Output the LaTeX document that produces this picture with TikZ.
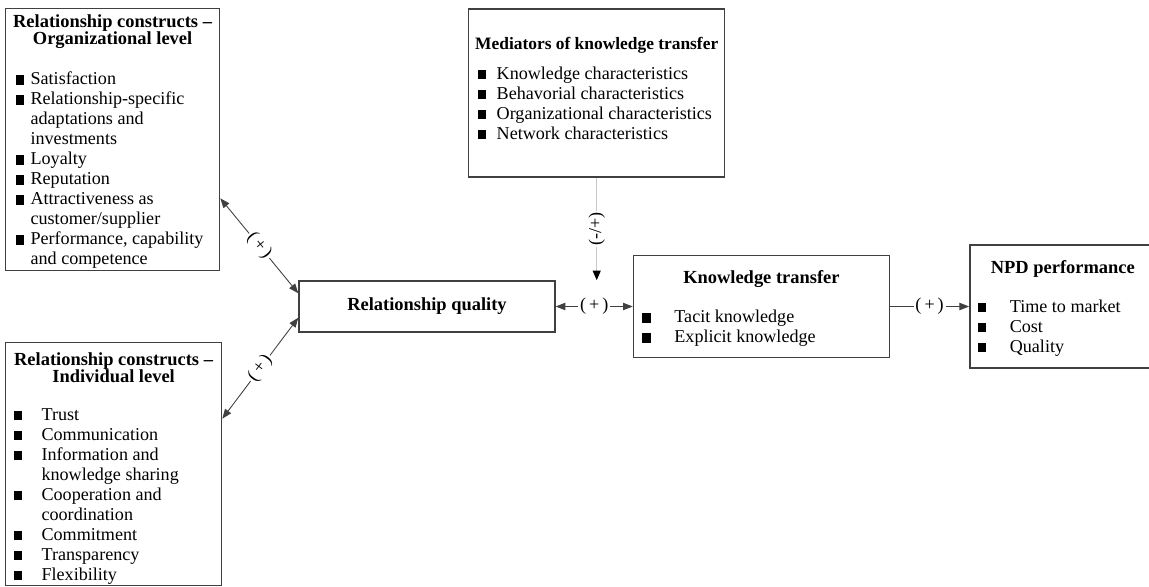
\documentclass[tikz,border=0pt]{standalone}
\usepackage{fontspec}
\setmainfont{Liberation Serif}
\usepackage{tikz}
\usetikzlibrary{arrows.meta, positioning}

\newlength{\sqx}
\newlength{\txtx}
\newcommand{\sq}{\rule{4.7pt}{5.3pt}}
\newcommand{\headfont}{\fontsize{10.5}{12}\selectfont\bfseries}
\newcommand{\bodyfont}{\fontsize{10.3}{11.4}\selectfont}
\newcommand{\head}[1]{\centerline{\headfont #1}}
\newcommand{\itm}[1]{\par\noindent\hspace*{\sqx}\rlap{\sq}\hspace*{\dimexpr\txtx-\sqx\relax}#1}
\newcommand{\cnt}[1]{\par\noindent\hspace*{\txtx}#1}
% width, height, top gap, head-to-list gap, square offset, text offset, heads, items
\newcommand{\boxbody}[8]{%
  \begin{minipage}[c][#2][t]{#1}
    \bodyfont\lineskiplimit=-\maxdimen\relax
    \setlength{\sqx}{#5}\setlength{\txtx}{#6}%
    \hbox{}\baselineskip=0.34cm\relax\vspace{#3}%
    #7%
    \baselineskip=0.4cm\relax\vspace{#4}%
    #8\par
  \end{minipage}}

\begin{document}
\begin{tikzpicture}[
  box/.style={draw=black!75, line width=0.8pt, inner sep=0pt},
  rqbox/.style={draw=black!75, line width=0.8pt, inner sep=0pt,
                minimum width=5.12cm, minimum height=1.02cm, font=\headfont},
  lbl/.style={fill=white, inner sep=1pt, font=\bodyfont},
  arr/.style={-{Triangle[length=5.5pt, width=4.2pt]}, line width=0.5pt, draw=black!75},
  darr/.style={{Triangle[length=5.5pt, width=4.2pt]}-{Triangle[length=5.5pt, width=4.2pt]},
               line width=0.5pt, draw=black!75},
  medarr/.style={-{Triangle[length=5.5pt, width=4.5pt, color=black]}, line width=0.8pt,
                 draw=black!22}
]
  \path[use as bounding box, clip] (0,0) rectangle (22.98,-11.72);

  \node[rqbox] (rq) at (8.54,-6.13) {Relationship quality};

  \node[box, above left=0.18cm and 1.56cm of rq.north west] (org)
    {\boxbody{4.28cm}{5.24cm}{0.04cm}{0.40cm}{0.2cm}{0.5cm}
      {\head{Relationship constructs --}\head{Organizational level}}
      {\itm{Satisfaction}\itm{Relationship-specific}\cnt{adaptations and}\cnt{investments}%
       \itm{Loyalty}\itm{Reputation}\itm{Attractiveness as}\cnt{customer/supplier}%
       \itm{Performance, capability}\cnt{and competence}}};

  \node[box, below left=0.18cm and 1.52cm of rq.south west] (ind)
    {\boxbody{4.32cm}{4.86cm}{0.12cm}{0.36cm}{0.16cm}{0.72cm}
      {\head{Relationship constructs --}\head{Individual level}}
      {\itm{Trust}\itm{Communication}\itm{Information and}\cnt{knowledge sharing}%
       \itm{Cooperation and}\cnt{coordination}\itm{Commitment}\itm{Transparency}%
       \itm{Flexibility}}};

  \node[box, right=1.54cm of rq] (kt)
    {\boxbody{5.12cm}{2.04cm}{0.22cm}{0.38cm}{0.18cm}{0.82cm}
      {\head{Knowledge transfer}}
      {\itm{Tacit knowledge}\itm{Explicit knowledge}}};

  \node[box, right=1.58cm of kt] (npd)
    {\boxbody{3.72cm}{2.46cm}{0.22cm}{0.38cm}{0.16cm}{0.80cm}
      {\head{NPD performance}}
      {\itm{Time to market}\itm{Cost}\itm{Quality}}};

  \node[box, above=1.54cm of kt.north west, xshift=-0.72cm] (med)
    {\boxbody{5.12cm}{3.36cm}{0.46cm}{0.20cm}{0.18cm}{0.56cm}
      {\head{\fontsize{9.9}{12}\selectfont Mediators of knowledge transfer}}
      {\itm{Knowledge characteristics}\itm{Behavorial characteristics}%
       \itm{Organizational characteristics}\itm{Network characteristics}}};

  \coordinate (medtip) at (med.south |- rq.north);

  \draw[darr] ([yshift=1.46cm]org.south east) -- node[lbl, sloped] {(\,+\,)} ([yshift=-0.26cm]rq.north west);
  \draw[darr] ([yshift=-1.54cm]ind.north east) -- node[lbl, sloped] {(\,+\,)} ([yshift=0.3cm]rq.south west);
  \draw[darr] (rq.east) -- node[lbl] {(\,+\,)} (rq.east -| kt.west);
  \draw[arr] (kt.east) -- node[lbl] {(\,+\,)} (kt.east -| npd.west);
  \draw[medarr] (med.south) -- node[lbl, rotate=90] {(-/+)} (medtip);
\end{tikzpicture}
\end{document}
